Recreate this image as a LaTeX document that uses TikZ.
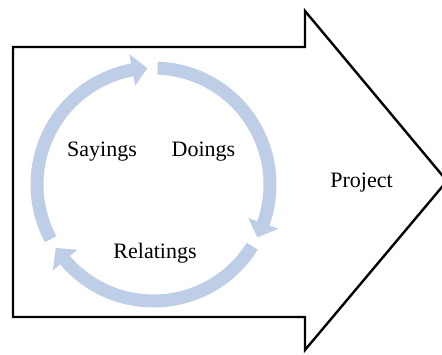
\documentclass[tikz,border=0pt]{standalone}
\usepackage{fontspec}
\setmainfont{Liberation Serif}
\usetikzlibrary{calc}
\definecolor{ringblue}{RGB}{190,206,231}
\tikzset{
  bigarrow/.style={draw=black, line width=2.4pt, line join=miter, fill=white},
  ringarrow/.style={fill=ringblue, draw=none},
  label/.style={font=\fontsize{22}{26}\selectfont, anchor=base, inner sep=0pt},
}
% one curved arrow of the cycle, running clockwise from angle #1 to its tip at angle #2
\newcommand\cyclearrow[2]{%
  \fill[ringarrow]
    ($(C)+(#1:123pt)$) arc[start angle=#1, end angle=#2+7.5, radius=123pt]
    -- ($(C)+(#2+7.5:132.5pt)$) -- ($(C)+(#2:116.5pt)$) -- ($(C)+(#2+7.5:100.5pt)$)
    -- ($(C)+(#2+7.5:110pt)$) arc[start angle=#2+7.5, end angle=#1, radius=110pt]
    -- cycle;}
\begin{document}
\begin{tikzpicture}[x=1pt, y=1pt]
  \useasboundingbox (0,0) rectangle (442,354);
  % block arrow pointing to the project
  \draw[bigarrow] (13,307) -- (305,307) -- (305,343) -- (447,173)
    -- (305,4) -- (305,37) -- (13,37) -- cycle;
  % cycle of three curved arrows
  \coordinate (C) at (153.5,169.5);
  \cyclearrow{208}{93}
  \cyclearrow{88}{-27}
  \cyclearrow{-32}{-147}
  % labels
  \node[label] (sayings) at (102,197) {Sayings};
  \node[label] (doings) at (203.5,197) {Doings};
  \node[label] (relatings) at (155,96) {Relatings};
  \node[label] (project) at (361.5,166) {Project};
\end{tikzpicture}
\end{document}
